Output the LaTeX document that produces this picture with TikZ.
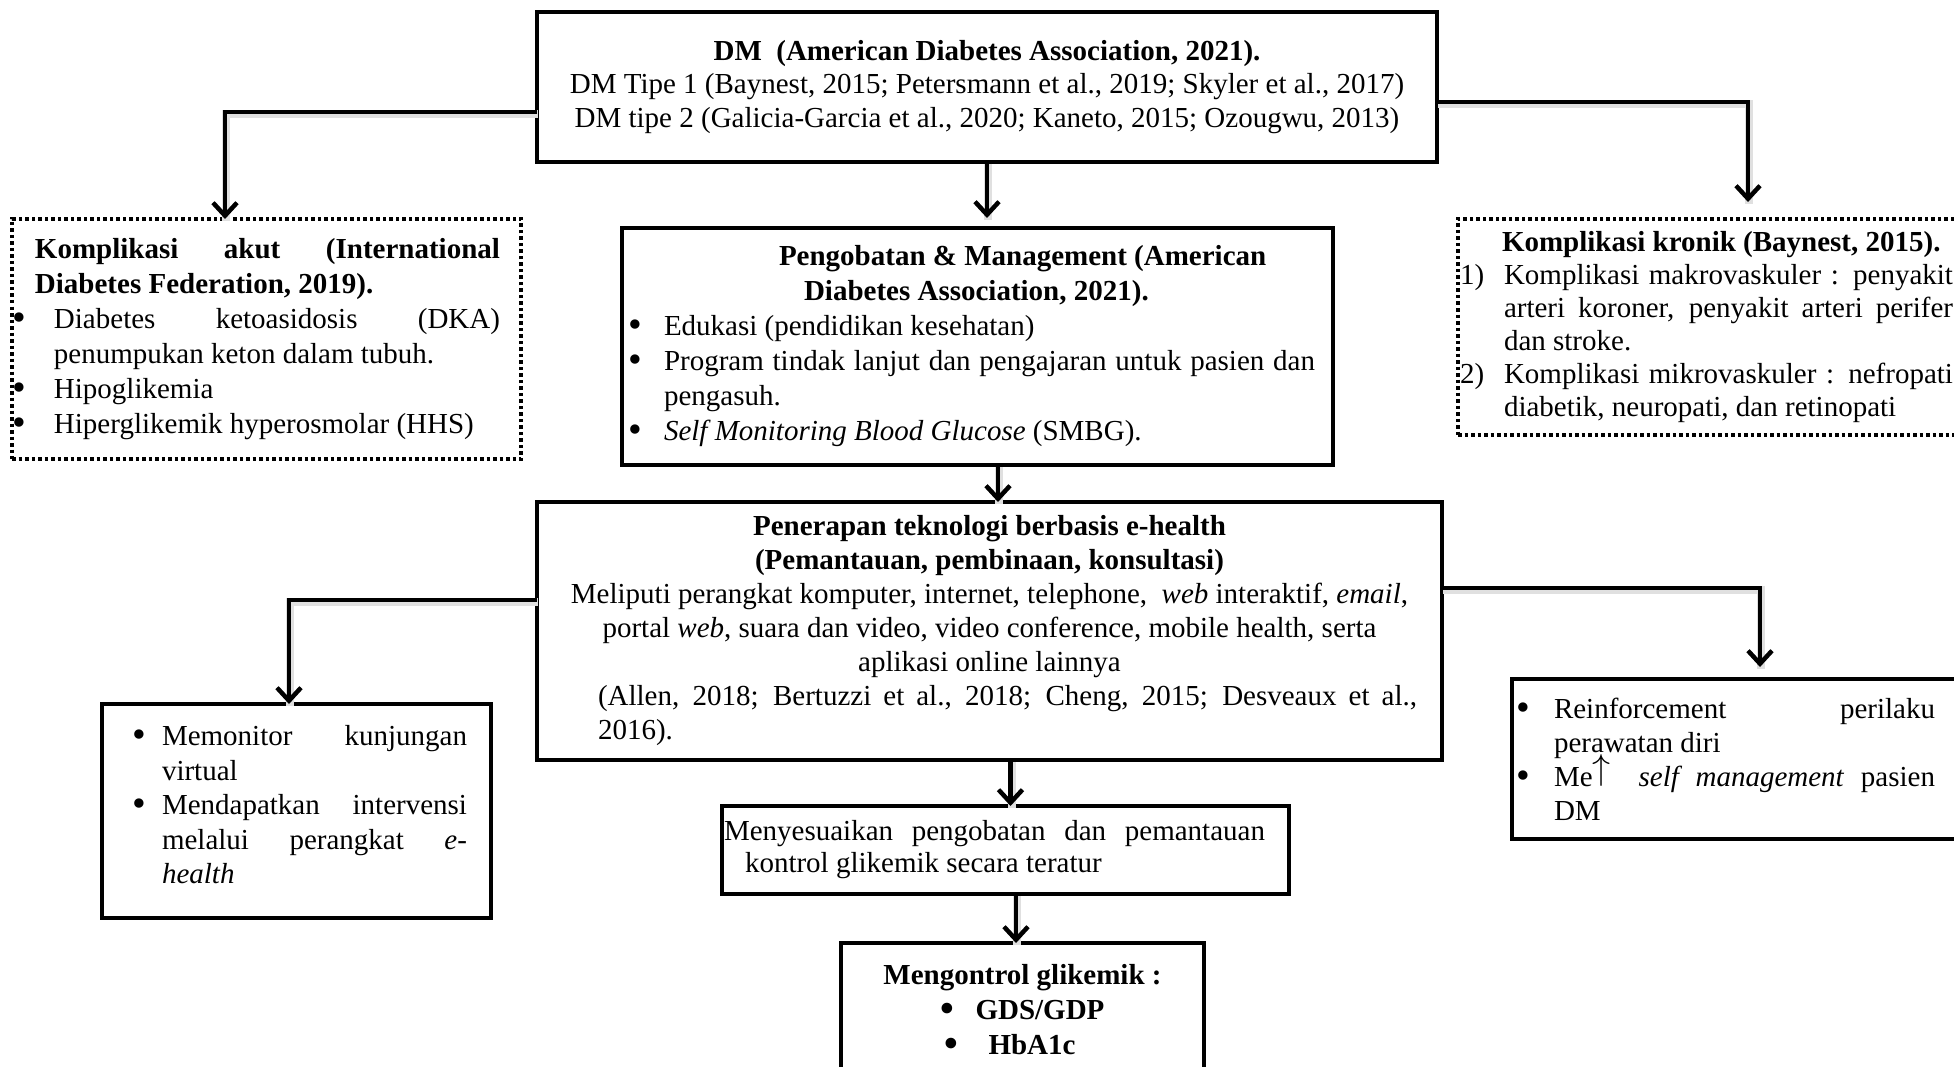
\documentclass[tikz,border=0pt]{standalone}
\usepackage{fontspec}
\setmainfont{Liberation Serif}
\usetikzlibrary{arrows.meta}

\tolerance=10000
\hyphenpenalty=10000

% normal justified spacing inside a box
\newcommand{\boxtext}{\spaceskip=0pt\xspaceskip=0pt\parfillskip=0pt plus 1fil}
% bullet and up arrow as drawn in the boxes
\newcommand{\bigbul}{\raisebox{-2pt}{\scalebox{1.35}{\textbullet}}}
\newcommand{\uparr}{\smash{\raisebox{7pt}{\scalebox{1.45}{$\uparrow$}}}}
% item with a hanging label: label, indent, text
\newcommand{\bitem}[3]{\noindent\hangindent=#2\hangafter=1\makebox[#2][l]{#1}#3\par}

\begin{document}
\begin{tikzpicture}
		[
			x=1pt, y=-1pt,
			box/.style={draw, line width=4.5pt, anchor=north west, outer sep=0pt,
				inner xsep=0pt, inner ysep=0pt, font=\fontsize{29}{34}\selectfont},
			dotbox/.style={box, line width=3.5pt, dash pattern=on 3.5pt off 3pt},
			link/.style={line width=4.5pt, -{Straight Barb[length=13pt, width=24pt]},
				preaction={draw=black!12, line width=8pt, -, transform canvas={xshift=1pt, yshift=-2pt}}},
		]

		\useasboundingbox (0,0) rectangle (1954,1067);
		\clip (0,0) rectangle (1954,1067);

		% Nodes
		\node[box, font=\fontsize{29}{33.5}\selectfont, minimum width=900pt, minimum height=150pt, text width=900pt] (dm) at (537,12)
			{\boxtext\centering\textbf{DM\ \ (American Diabetes Association, 2021).}\\
			DM Tipe 1 (Baynest, 2015; Petersmann et al., 2019; Skyler et al., 2017)\\
			DM tipe 2 (Galicia-Garcia et al., 2020; Kaneto, 2015; Ozougwu, 2013)\par};

		\node[dotbox, font=\fontsize{29}{35}\selectfont, minimum width=509pt, minimum height=240pt, text width=509pt] (akut) at (12,219)
			{\boxtext{\leftskip=23pt \rightskip=21pt \bfseries Komplikasi akut (International\linebreak Diabetes Federation, 2019).\par}
			\leftskip=1pt \rightskip=21pt
			\bitem{\bigbul}{41pt}{Diabetes ketoasidosis (DKA)\linebreak penumpukan keton dalam tubuh.}
			\bitem{\bigbul}{41pt}{Hipoglikemia}
			\bitem{\bigbul}{41pt}{Hiperglikemik hyperosmolar (HHS)}};

		\node[box, font=\fontsize{29}{35}\selectfont, minimum width=711pt, minimum height=237pt, text width=711pt] (obat) at (622,228)
			{\boxtext{\bfseries\leftskip=157pt \rightskip=0pt plus 1fil \parfillskip=0pt
			Pengobatan \& Management (American\\\hspace*{25pt}Diabetes Association, 2021).\par}
			\leftskip=6pt \rightskip=18pt
			\bitem{\bigbul}{36pt}{Edukasi (pendidikan kesehatan)}
			\bitem{\bigbul}{36pt}{Program tindak lanjut dan pengajaran untuk pasien dan\linebreak pengasuh.}
			\bitem{\bigbul}{36pt}{\textit{Self Monitoring Blood Glucose} (SMBG).}};

		\node[dotbox, font=\fontsize{29}{33}\selectfont, minimum width=517pt, minimum height=216pt, text width=517pt] (kronik) at (1458,219)
			{\boxtext{\bfseries\leftskip=44pt \rightskip=22pt Komplikasi kronik (Baynest, 2015).\par}
			\leftskip=2pt \rightskip=22pt
			\bitem{1)}{44pt}{Komplikasi makrovaskuler : penyakit\linebreak arteri koroner, penyakit arteri perifer\linebreak dan stroke.}
			\bitem{2)}{44pt}{Komplikasi mikrovaskuler : nefropati\linebreak diabetik, neuropati, dan retinopati}};

		\node[box, minimum width=905pt, minimum height=258pt, text width=905pt] (ehealth) at (537,502)
			{\boxtext{\centering\bfseries Penerapan teknologi berbasis e-health\\(Pemantauan, pembinaan, konsultasi)\par}
			{\centering Meliputi perangkat komputer, internet, telephone, \ \textit{web} interaktif, \textit{email},\\
			portal \textit{web}, suara dan video, video conference, mobile health, serta\\
			aplikasi online lainnya\par}
			\leftskip=61pt \rightskip=25pt
			(Allen, 2018; Bertuzzi et al., 2018; Cheng, 2015; Desveaux et al.,\linebreak 2016).\par};

		\node[box, font=\fontsize{29}{34.5}\selectfont, minimum width=389pt, minimum height=214pt, text width=389pt] (monitor) at (102,704)
			{\boxtext\leftskip=30pt \rightskip=24pt
			\bitem{\bigbul}{30pt}{Memonitor kunjungan\linebreak virtual}
			\bitem{\bigbul}{30pt}{Mendapatkan intervensi\linebreak melalui perangkat \textit{e-}\linebreak\textit{health}}
			\kern12pt};

		\node[box, minimum width=463pt, minimum height=160pt, text width=463pt] (reinf) at (1512,679)
			{\boxtext\leftskip=4pt \rightskip=40pt
			\bitem{\bigbul}{38pt}{Reinforcement perilaku\linebreak perawatan diri}
			\bitem{\bigbul}{38pt}{Me\uparr\hspace{28pt}\textit{self management} pasien\linebreak DM}};

		\node[box, font=\fontsize{29}{32}\selectfont, minimum width=567pt, minimum height=88pt, text width=567pt] (sesuai) at (722,806)
			{\boxtext\leftskip=2pt \rightskip=24pt
			Menyesuaikan pengobatan dan pemantauan\linebreak\hspace*{21pt}kontrol glikemik secara teratur\par};

		\node[box, font=\fontsize{29}{35}\selectfont, minimum width=363pt, minimum height=134pt, text width=363pt] (kontrol) at (841,943)
			{\boxtext\centering\bfseries Mengontrol glikemik :\\
			\makebox[35pt][l]{\bigbul}GDS/GDP\hspace*{22pt}\\
			\makebox[44pt][l]{\bigbul}HbA1c\hspace*{25pt}\par};

		% Links
		\draw[link] ([yshift=-25pt]dm.west) -| ([xshift=-41.5pt]akut.north);
		\draw[link, shorten >=10pt] (dm.south) -- (dm.south |- obat.north);
		\draw[link, shorten >=17pt] ([yshift=-15pt]dm.east) -| ([xshift=31.5pt]kronik.north);
		\draw[link] ([yshift=31pt]ehealth.west) -| ([xshift=-7.5pt]monitor.north);
		\draw[link, shorten >=12pt] ([yshift=43pt]ehealth.east) -| ([xshift=16.5pt]reinf.north);
		\foreach \u/\v/\dx in {obat/ehealth/20.5, ehealth/sesuai/21, sesuai/kontrol/10.5}
			\draw[link] ([xshift=\dx pt]\u.south) -- ([xshift=\dx pt]\u.south |- \v.north);

\end{tikzpicture}
\end{document}
